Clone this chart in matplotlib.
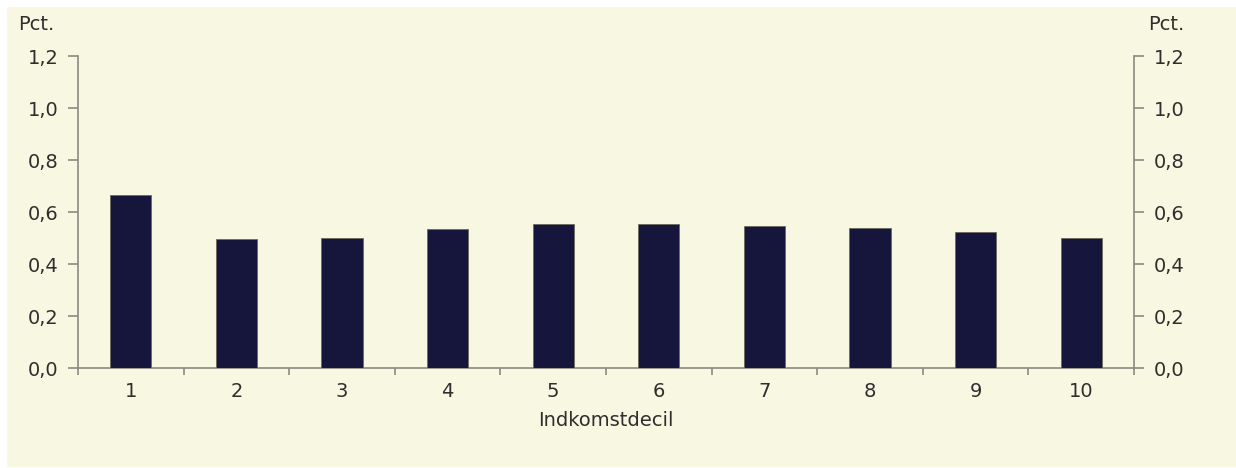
import matplotlib.pyplot as plt
import numpy as np
from matplotlib.patches import Rectangle
from matplotlib.ticker import FixedLocator, FuncFormatter

plt.rcParams["font.family"] = ["DejaVu Sans"]

# data
deciles = ["1", "2", "3", "4", "5", "6", "7", "8", "9", "10"]
values = [0.667, 0.498, 0.501, 0.536, 0.555, 0.552, 0.548, 0.539, 0.523, 0.500]
y_ticks = [0.0, 0.2, 0.4, 0.6, 0.8, 1.0, 1.2]

BG = "#f8f7e1"
BAR = "#16163c"
SPINE = "#8a8a84"
TEXT = "#2e2e2e"
FS = 14

W, H = 1236, 468
dpi = 100
fig = plt.figure(figsize=(W / dpi, H / dpi), dpi=dpi)
fig.patch.set_facecolor("white")

# cream panel behind everything, white margin top/left
bg = fig.add_axes([0, 0, 1, 1], zorder=-1)
bg.set_xlim(0, W)
bg.set_ylim(H, 0)
bg.axis("off")
bg.add_patch(Rectangle((7, 7), W - 7, H - 8, facecolor=BG, edgecolor="none"))

ax = fig.add_axes([78 / W, 1 - 368 / H, (1134 - 78) / W, (368 - 56) / H], zorder=1)
ax.patch.set_alpha(0)

x = np.arange(len(deciles))
ax.bar(x, values, width=0.39, color=BAR, edgecolor="#6b6b60", linewidth=0.6, zorder=3)

ax.set_xlim(-0.5, len(deciles) - 0.5)
ax.set_ylim(0, 1.2)

ax.spines["top"].set_visible(False)
for side in ("left", "right", "bottom"):
    ax.spines[side].set_color(SPINE)
    ax.spines[side].set_linewidth(1.2)

# y axis on both sides
ax.set_yticks(y_ticks)
ax.yaxis.set_major_formatter(FuncFormatter(lambda v, _: f"{v:.1f}".replace(".", ",")))
ax.tick_params(axis="y", which="major", direction="out", length=7, width=1.2,
               color=SPINE, labelcolor=TEXT, labelsize=FS, pad=7,
               left=True, right=True, labelleft=True, labelright=True)

# x ticks at category boundaries, labels at centres
ax.xaxis.set_major_locator(FixedLocator(np.arange(-0.5, len(deciles), 1.0)))
ax.xaxis.set_major_formatter(FuncFormatter(lambda v, _: ""))
ax.set_xticks(x, minor=True)
ax.set_xticklabels(deciles, minor=True)
ax.tick_params(axis="x", which="major", direction="out", length=5, width=1.2, color=SPINE)
ax.tick_params(axis="x", which="minor", length=0, labelsize=FS, labelcolor=TEXT, pad=10)

ax.set_xlabel("Indkomstdecil", fontsize=FS, color=TEXT, labelpad=7)

fig.text(18 / W, 1 - 25 / H, "Pct.", fontsize=FS, color=TEXT, ha="left", va="center")
fig.text(1148 / W, 1 - 24 / H, "Pct.", fontsize=FS, color=TEXT, ha="left", va="center")

fig.savefig("out.png", dpi=dpi, facecolor=fig.get_facecolor())
